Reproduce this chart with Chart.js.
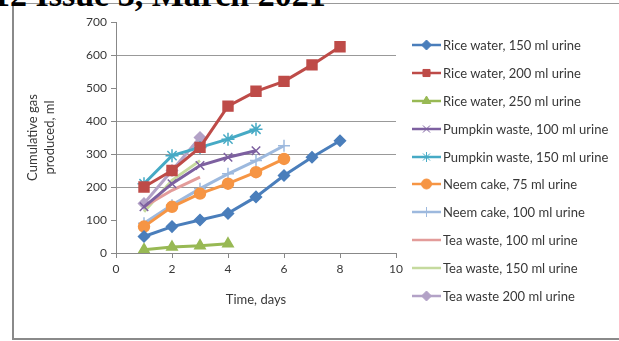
<!DOCTYPE html>
<html>
<head>
<meta charset="utf-8">
<script src="https://cdn.jsdelivr.net/npm/chart.js@4"></script>
<style>
body { margin:0; width:619px; height:341px; overflow:hidden; background:#fff; position:relative; }
#cadre { position:absolute; left:12px; top:3px; width:605px; height:334px; border-left:2px solid #8a8a8a; border-top:1px solid #999; border-bottom:2px solid #8a8a8a; }
#entete { position:absolute; left:-7px; top:-22px; font:bold 34px/34px "Liberation Serif"; white-space:nowrap; color:#000; }
#zone { position:absolute; left:14px; top:4px; width:603px; height:333px; }
#legende { position:absolute; left:412px; top:31px; font:13px Lato; color:#383838; }
#legende div { height:27.9px; display:flex; align-items:center; white-space:nowrap; }
#legende canvas { margin-right:2px; }
</style>
</head>
<body>
<div id="cadre"></div>
<div id="entete">12 Issue 3, March 2021</div>
<div id="zone"><canvas id="graphe"></canvas></div>
<div id="legende"></div>
<script>
// jours de mesure
const jours = [1, 2, 3, 4, 5, 6, 7, 8];
// gaz cumulé (ml) par essai
const riz150 = [50, 80, 100, 120, 170, 235, 290, 340];
const riz200 = [200, 250, 320, 445, 490, 520, 570, 625];
const riz250 = [10, 18, 22, 28];
const citrouille100 = [140, 210, 265, 290, 310];
const citrouille150 = [210, 295, 320, 345, 375];
const neem75 = [80, 140, 180, 210, 245, 285];
const neem100 = [90, 145, 195, 240, 280, 325];
const the100 = [140, 190, 230];
const the150 = [125, 220, 280];
const the200 = [150, 250, 350];

const noms = ['Rice water, 150 ml urine', 'Rice water, 200 ml urine', 'Rice water, 250 ml urine',
  'Pumpkin waste, 100 ml urine', 'Pumpkin waste, 150 ml urine', 'Neem cake, 75 ml urine',
  'Neem cake, 100 ml urine', 'Tea waste, 100 ml urine', 'Tea waste, 150 ml urine', 'Tea waste 200 ml urine'];
const valeurs = [riz150, riz200, riz250, citrouille100, citrouille150, neem75, neem100, the100, the150, the200];
const couleurs = ['#4a7ebb', '#be4b48', '#98b954', '#7d60a0', '#46aac5', '#f69544', '#9db9de', '#e39c9a', '#c5da9e', '#b3a2c7'];
const formes = ['rectRot', 'rect', 'triangle', 'crossRot', 'star', 'circle', 'cross', false, false, 'rectRot'];
const rayons = [5.5, 7, 6, 6, 6.5, 5.5, 6, 0, 0, 5.5];

const police = { family: 'Lato', size: 12 };
const policeTitre = { family: 'Lato', size: 13, lineHeight: 1.3 };
const gris = '#383838';

// petite image ligne + marqueur pour la légende
function imageLegende(i) {
  const c = document.createElement('canvas');
  c.width = 29; c.height = 12;
  const ctx = c.getContext('2d');
  ctx.strokeStyle = couleurs[i];
  ctx.fillStyle = couleurs[i];
  ctx.lineWidth = 2.5;
  ctx.beginPath(); ctx.moveTo(0, 6); ctx.lineTo(29, 6); ctx.stroke();
  if (formes[i]) {
    ctx.lineWidth = 1;
    Chart.helpers.drawPoint(ctx, { pointStyle: formes[i], radius: Math.min(rayons[i], 5), rotation: 0, borderWidth: 1 }, 14.5, 6);
  }
  return c;
}

// légende html (la légende intégrée est limitée en largeur)
const legende = document.getElementById('legende');
noms.forEach((nom, i) => {
  const ligne = document.createElement('div');
  ligne.appendChild(imageLegende(i));
  ligne.appendChild(document.createTextNode(nom));
  legende.appendChild(ligne);
});

const datasets = noms.map((nom, i) => ({
  label: nom,
  data: valeurs[i].map((v, k) => ({ x: jours[k], y: v })),
  borderColor: couleurs[i],
  backgroundColor: couleurs[i],
  borderWidth: 3,
  pointStyle: formes[i] || 'circle',
  pointRadius: rayons[i],
  pointBorderWidth: 1.5,
  tension: 0
}));

new Chart('graphe', {
  type: 'line',
  data: { datasets: datasets },
  options: {
    responsive: true, maintainAspectRatio: false, animation: false,
    layout: { padding: { top: 18, bottom: 17, left: 0, right: 221 } },
    plugins: { tooltip: { enabled: false }, legend: { display: false } },
    scales: {
      x: {
        type: 'linear', min: 0, max: 10,
        ticks: { stepSize: 2, font: police, color: gris, padding: 4 },
        grid: { drawOnChartArea: false, tickLength: 5, color: '#888' },
        border: { color: '#888' },
        title: { display: true, text: 'Time, days', font: policeTitre, color: gris, padding: { top: 0, bottom: 12 } },
        afterFit: s => { s.height = 67; }
      },
      y: {
        min: 0, max: 700,
        ticks: { stepSize: 100, font: police, color: gris, padding: 4 },
        grid: {
          tickLength: 5, tickColor: '#888',
          color: c => [200, 300, 400, 600].includes(c.tick.value) ? '#999' : 'rgba(0,0,0,0)'
        },
        border: { color: '#888' },
        title: { display: true, text: ['Cumulative gas', 'produced, ml'], font: policeTitre, color: gris, padding: { top: 10, bottom: 0 } },
        afterFit: s => { s.width = 102; }
      }
    }
  }
});
</script>
</body>
</html>
